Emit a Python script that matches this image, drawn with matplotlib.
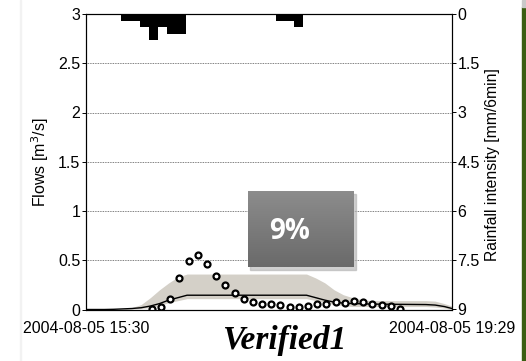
import numpy as np
import matplotlib
matplotlib.use("Agg")
import matplotlib.pyplot as plt
from matplotlib.patches import Rectangle
from matplotlib.colors import LinearSegmentedColormap

plt.rcParams['font.family'] = ['Liberation Sans', 'DejaVu Sans']

# time axis in minutes after 2004-08-05 15:30
T_END = 239
x_labels = ['2004-08-05 15:30', '2004-08-05 19:29']

# rainfall, mm per 6 min (bar left edges in minutes)
rain_t = [23, 29, 35, 41, 47, 53, 59, 124, 130, 136]
rain_mm = [0.2, 0.2, 0.4, 0.8, 0.4, 0.6, 0.6, 0.2, 0.2, 0.4]

# observed flows, every 6 min
obs_t = [43, 49, 55, 61, 67, 73, 79, 85, 91, 97, 103, 109, 115, 121,
         127, 133, 139, 145, 151, 157, 163, 169, 175, 181, 187, 193, 199, 205]
obs_q = [0.01, 0.03, 0.11, 0.32, 0.49, 0.55, 0.46, 0.34, 0.25, 0.17, 0.11,
         0.08, 0.06, 0.055, 0.045, 0.03, 0.025, 0.035, 0.06, 0.055, 0.08,
         0.07, 0.085, 0.075, 0.055, 0.045, 0.035, 0.01]

# simulated flow and uncertainty band
sim_t = [0, 6, 12, 18, 24, 30, 36, 42, 48, 54, 60, 66, 72, 144, 150, 156,
         162, 168, 174, 180, 186, 222, 228, 234, 239]
sim_q = [0, 0, 0, 0.002, 0.006, 0.01, 0.018, 0.035, 0.06, 0.095, 0.12,
         0.145, 0.145, 0.145, 0.12, 0.095, 0.075, 0.065, 0.06, 0.058,
         0.055, 0.05, 0.045, 0.03, 0.01]
band_hi = [0, 0, 0, 0, 0.005, 0.02, 0.05, 0.12, 0.2, 0.27, 0.33, 0.36, 0.36,
           0.36, 0.32, 0.27, 0.2, 0.15, 0.12, 0.1, 0.09, 0.09, 0.085, 0.06,
           0.035]
band_lo = [0, 0, 0, 0, 0.002, 0.005, 0.01, 0.02, 0.04, 0.07, 0.09, 0.11,
           0.11, 0.11, 0.09, 0.07, 0.05, 0.04, 0.03, 0.03, 0.03, 0.03, 0.025,
           0.015, 0.0]

FS = 11.5

fig = plt.figure(figsize=(5.26, 3.61), dpi=100)
ax = fig.add_axes([86/526, 1-309.5/361, 366/526, 295.5/361])

ax.fill_between(sim_t, band_lo, band_hi, color='#d4d0c8', lw=0, zorder=1)
ax.plot(sim_t, sim_q, color='black', lw=1.0, zorder=2)
ax.plot(obs_t, obs_q, ls='none', marker='o', ms=4.3, mfc='white', mec='black',
        mew=1.6, zorder=3)

ax.set_xlim(0, T_END)
ax.set_ylim(0, 3)
ax.set_yticks([0, 0.5, 1, 1.5, 2, 2.5, 3])
ax.set_yticklabels(['0', '0.5', '1', '1.5', '2', '2.5', '3'])
ax.set_xticks([0, T_END])
ax.set_xticklabels(x_labels)
ax.tick_params(axis='x', length=0, pad=8, labelsize=FS)
ax.tick_params(axis='y', length=3, width=0.7, labelsize=FS, pad=1)
ax.yaxis.grid(True, ls=(0, (1, 1)), lw=0.6, color='#555555')
for s in ax.spines.values():
    s.set_linewidth(0.8)

# rainfall on inverted right axis
ax2 = ax.twinx()
ax2.bar(rain_t, rain_mm, width=6, align='edge', color='black', lw=0)
ax2.set_ylim(9, 0)
ax2.set_yticks([0, 1.5, 3, 4.5, 6, 7.5, 9])
ax2.set_yticklabels(['0', '1.5', '3', '4.5', '6', '7.5', '9'])
ax2.tick_params(axis='y', length=3, width=0.7, labelsize=FS, pad=1)
for s in ax2.spines.values():
    s.set_linewidth(0.8)

fig.text(40/526, 1-162/361, 'Flows [m$^3$/s]', rotation=90, ha='center',
         va='center', fontsize=11.5)
fig.text(493/526, 1-165/361, 'Rainfall intensity [mm/6min]', rotation=90,
         ha='center', va='center', fontsize=11.3)

fig.text(284/526, 1-341/361, 'Verified1', ha='center', va='center',
         family='Liberation Serif', weight='bold', style='italic', fontsize=24)

# grey percentage box with shadow
bx, by, bw, bh = 248/526, 1-267/361, 106/526, 76/361
fig.patches.append(Rectangle((bx+2/526, by-3/361), bw, bh,
                             transform=fig.transFigure, color='#b0b0b0',
                             alpha=0.6, zorder=4))
bax = fig.add_axes([bx, by, bw, bh], zorder=5)
grad = np.linspace(0, 1, 64).reshape(-1, 1)
cmap = LinearSegmentedColormap.from_list('box', ['#8c8c8c', '#6a6a6a'])
bax.imshow(grad, aspect='auto', cmap=cmap, extent=[0, 1, 0, 1], origin='upper')
bax.set_axis_off()
bax.text(0.39, 0.47, '9%', ha='center', va='center', color='white',
         family='Open Sans', weight='bold', fontsize=20, transform=bax.transAxes)

# slide edge strips
fig.patches.append(Rectangle((521.5/526, 0), 4.5/526, 1-7/361,
                             transform=fig.transFigure, color='#3c5e12'))
fig.patches.append(Rectangle((521.5/526, 1-7/361), 4.5/526, 7/361,
                             transform=fig.transFigure, color='#c9c9c9'))
fig.patches.append(Rectangle((20/526, 0), 1/526, 1,
                             transform=fig.transFigure, color='#f2f2f2'))

fig.savefig('out.png', dpi=100)
